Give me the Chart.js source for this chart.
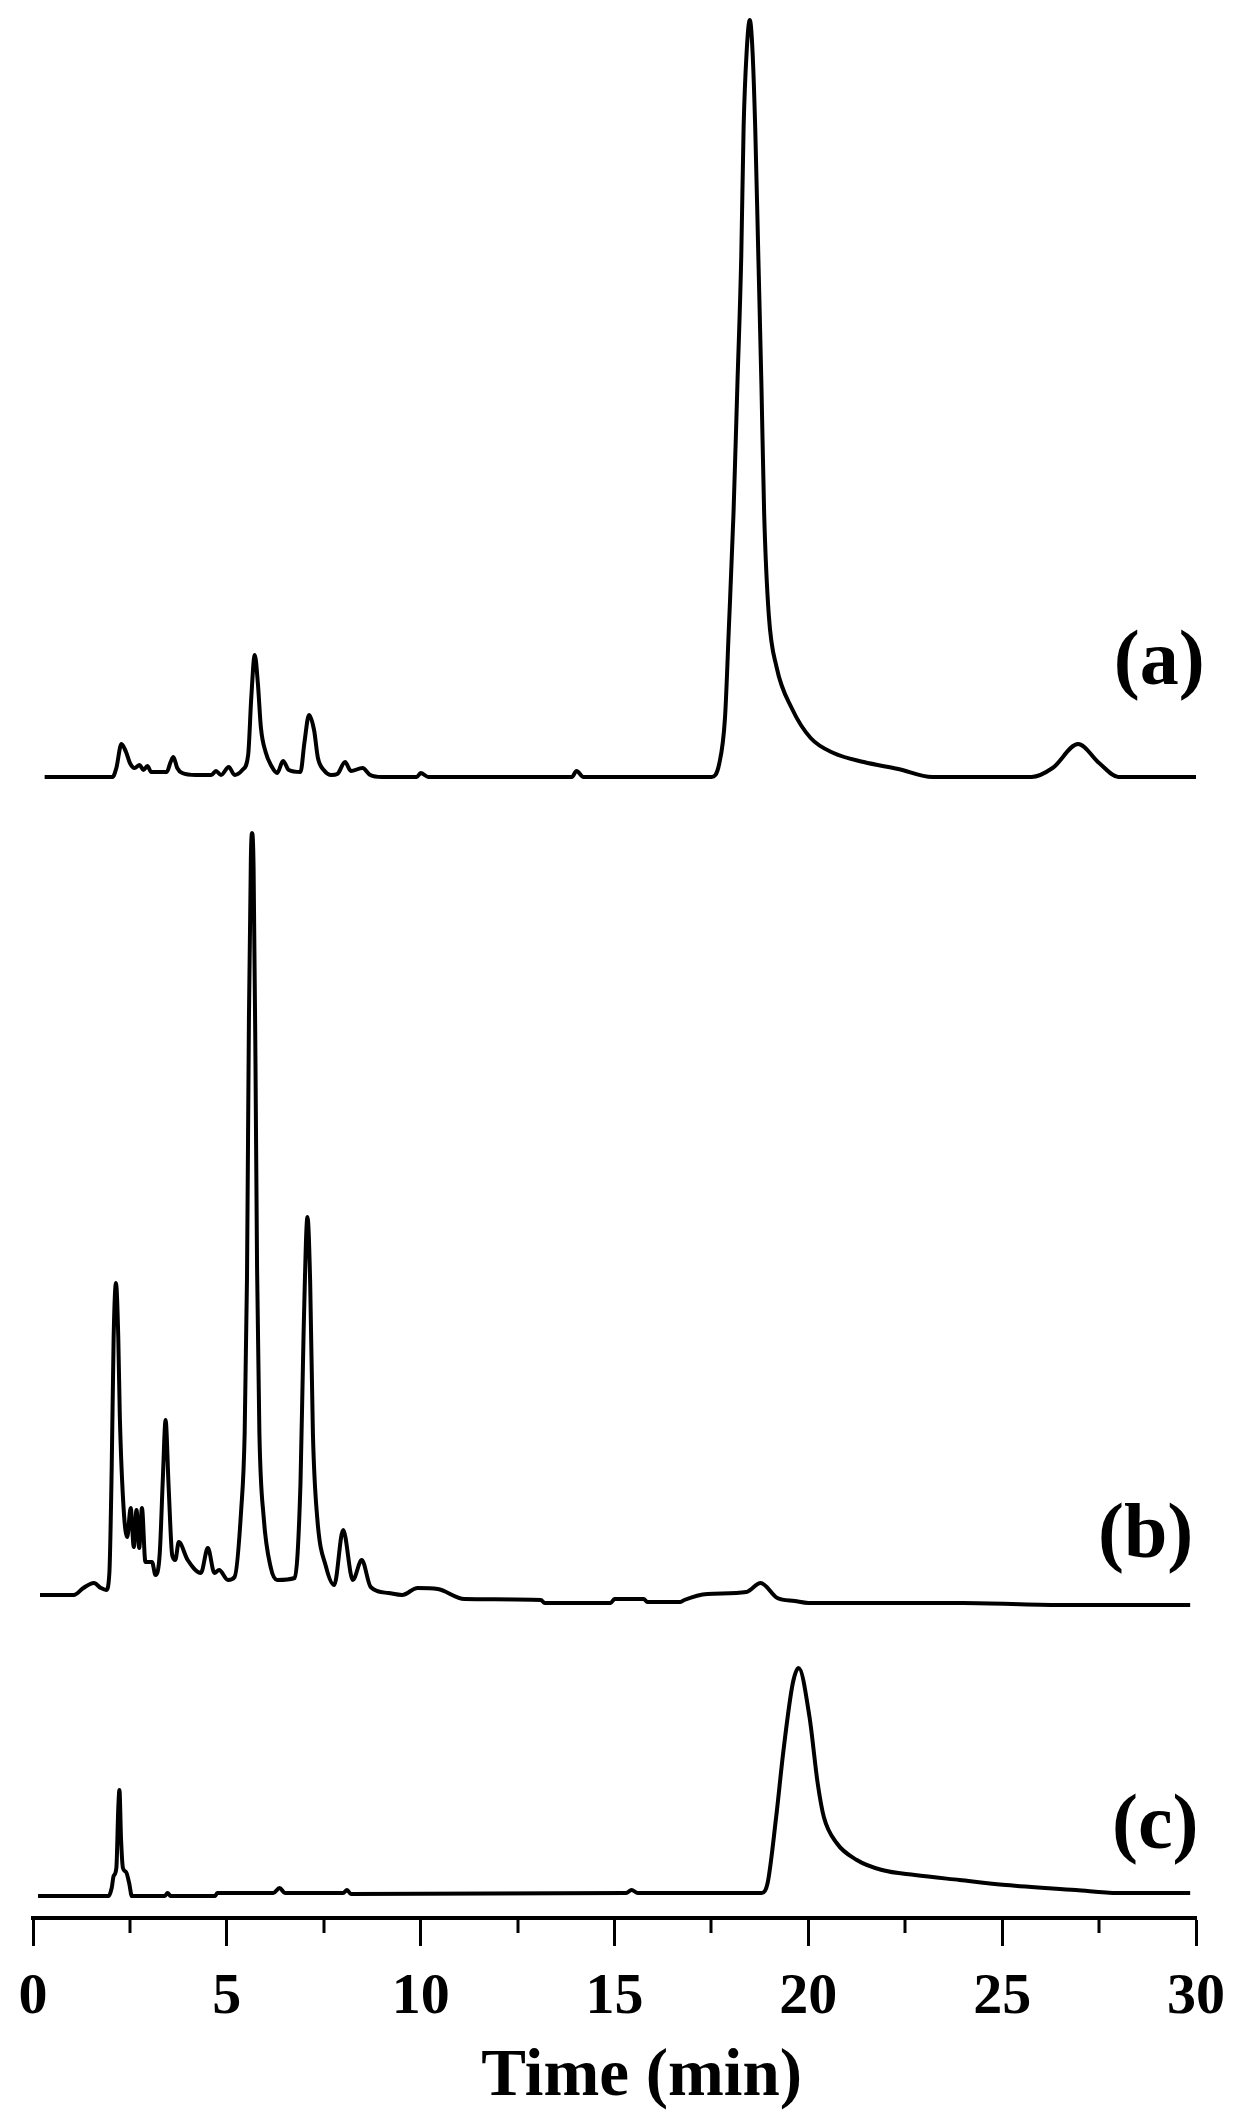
<!DOCTYPE html>
<html>
<head>
<meta charset="utf-8">
<script src="https://cdn.jsdelivr.net/npm/chart.js@4/dist/chart.umd.min.js"></script>
<style>
  html, body { margin: 0; padding: 0; background: #fff; }
  #wrap { width: 1244px; height: 2124px; position: relative; }
</style>
</head>
<body>
<div id="wrap"><canvas id="hplcChart"></canvas></div>
<script>
// retention time (min) and detector signal, traces stacked on one scale
const aTime = [0.3, 2.05, 2.15, 2.28, 2.4, 2.5, 2.62, 2.75, 2.85, 2.95, 3.05, 3.45, 3.55, 3.62, 3.72, 3.85, 4.2, 4.6, 4.72, 4.85, 5.05, 5.2, 5.4, 5.55, 5.63, 5.72, 5.8, 5.88, 6.0, 6.15, 6.3, 6.45, 6.6, 6.9, 7.0, 7.12, 7.25, 7.35, 7.5, 7.7, 7.85, 8.05, 8.2, 8.5, 8.7, 9.0, 9.9, 10.0, 10.2, 13.9, 14.02, 14.2, 17.5, 17.7, 17.85, 17.95, 18.07, 18.17, 18.27, 18.33, 18.41, 18.49, 18.56, 18.63, 18.71, 18.79, 18.86, 18.98, 19.18, 19.57, 20.06, 20.65, 21.43, 22.32, 23.2, 25.76, 26.3, 26.96, 27.5, 28.0, 30.0];
const aSignal = [1141, 1141, 1150, 1174, 1166, 1155, 1150, 1153, 1148, 1152, 1146, 1146, 1156, 1161, 1150, 1145, 1143, 1143, 1147, 1143, 1151, 1143, 1148, 1163, 1220, 1263, 1235, 1190, 1166, 1152, 1145, 1157, 1148, 1146, 1175, 1203, 1188, 1160, 1148, 1143, 1144, 1156, 1147, 1150, 1143, 1141, 1141, 1145, 1141, 1141, 1147, 1141, 1141, 1154, 1200, 1290, 1405, 1533, 1662, 1790, 1867, 1898, 1867, 1790, 1662, 1533, 1405, 1303, 1251, 1210, 1180, 1165, 1156, 1149, 1141, 1141, 1150, 1174, 1155, 1141, 1141];

const bTime = [0.18, 1.05, 1.3, 1.57, 1.75, 1.89, 1.97, 2.03, 2.08, 2.14, 2.2, 2.24, 2.34, 2.43, 2.52, 2.6, 2.67, 2.74, 2.81, 2.9, 3.07, 3.16, 3.27, 3.35, 3.42, 3.5, 3.59, 3.67, 3.76, 3.99, 4.33, 4.51, 4.68, 4.8, 5.03, 5.2, 5.37, 5.46, 5.52, 5.57, 5.62, 5.65, 5.69, 5.74, 5.78, 5.84, 5.95, 6.13, 6.3, 6.75, 6.9, 6.98, 7.08, 7.15, 7.22, 7.33, 7.56, 7.77, 8.0, 8.25, 8.48, 8.71, 9.17, 9.52, 9.92, 10.44, 11.13, 13.1, 13.2, 14.9, 15.0, 15.75, 15.85, 16.7, 16.8, 17.4, 18.4, 18.77, 19.2, 19.65, 20.0, 22.0, 24.0, 26.5, 28.0, 29.85];
const bSignal = [323, 323, 330, 335, 330, 328, 345, 450, 580, 635, 580, 501, 408, 381, 410, 371, 408, 370, 410, 356, 356, 343, 365, 440, 498, 430, 363, 358, 376, 358, 345, 370, 345, 348, 338, 341, 408, 485, 640, 900, 1060, 1085, 1050, 850, 650, 485, 401, 351, 338, 340, 435, 585, 701, 635, 485, 401, 351, 333, 388, 338, 358, 331, 325, 323, 330, 329, 319, 318, 315, 315, 319, 319, 316, 316, 318, 324, 326, 335, 320, 317, 315, 315, 315, 313, 313, 313];

const cTime = [0.13, 1.95, 2.03, 2.08, 2.15, 2.2, 2.23, 2.27, 2.32, 2.4, 2.48, 2.55, 3.4, 3.47, 3.55, 4.7, 4.75, 6.2, 6.36, 6.5, 8.0, 8.1, 8.2, 15.3, 15.44, 15.6, 18.8, 18.95, 19.17, 19.36, 19.6, 19.75, 20.03, 20.24, 20.4, 20.73, 21.25, 21.9, 22.75, 23.9, 25.1, 26.9, 27.98, 29.85];
const cSignal = [22, 22, 30, 42, 50, 110, 128, 80, 50, 46, 35, 22, 22, 25, 22, 22, 25, 25, 30, 25, 25, 28, 24, 25, 28, 25, 25, 35, 101, 168, 235, 250, 201, 135, 101, 75, 58, 48, 43, 38, 33, 28, 25, 25];

const traceNames = ['(a)', '(b)', '(c)'];
const majorTicks = [0, 5, 10, 15, 20, 25, 30];
const minorTicks = [2.5, 7.5, 12.5, 17.5, 22.5, 27.5];
const axisTitle = 'Time (min)';

const serif = '"Liberation Serif", "Times New Roman", serif';

function toPoints(xs, ys) {
  return xs.map((x, i) => ({ x: x, y: ys[i] }));
}

const traces = [[aTime, aSignal], [bTime, bSignal], [cTime, cSignal]];

// where the trace names sit (minutes, signal)
const labelSpots = [[29.05, 1254], [28.7, 381], [28.95, 90]];

const minorTickPlugin = {
  id: 'minorTicks',
  afterDraw(chart) {
    const ctx = chart.ctx;
    const xs = chart.scales.x;
    const yb = chart.chartArea.bottom;
    ctx.save();
    ctx.strokeStyle = '#000';
    ctx.lineWidth = 3;
    minorTicks.forEach(v => {
      const px = Math.round(xs.getPixelForValue(v));
      ctx.beginPath();
      ctx.moveTo(px, yb);
      ctx.lineTo(px, yb + 15);
      ctx.stroke();
    });
    // axis title, sits a little right of centre in the original
    ctx.fillStyle = '#000';
    ctx.font = 'bold 67px ' + serif;
    ctx.textAlign = 'center';
    ctx.textBaseline = 'middle';
    ctx.fillText(axisTitle, xs.getPixelForValue(15.7), yb + 160);
    ctx.restore();
  }
};

const traceLabelPlugin = {
  id: 'traceLabels',
  afterDatasetsDraw(chart) {
    const ctx = chart.ctx;
    ctx.save();
    ctx.fillStyle = '#000';
    ctx.font = 'bold 78px ' + serif;
    ctx.textAlign = 'center';
    ctx.textBaseline = 'middle';
    traceNames.forEach((name, i) => {
      const px = chart.scales.x.getPixelForValue(labelSpots[i][0]);
      const py = chart.scales.y.getPixelForValue(labelSpots[i][1]);
      ctx.fillText(name, px, py);
    });
    ctx.restore();
  }
};

new Chart(document.getElementById('hplcChart').getContext('2d'), {
  type: 'line',
  data: {
    datasets: traces.map((t, i) => ({
      label: traceNames[i],
      data: toPoints(t[0], t[1]),
      borderColor: '#000',
      borderWidth: 4,
      pointRadius: 0,
      fill: false,
      cubicInterpolationMode: 'monotone'
    }))
  },
  options: {
    responsive: true,
    maintainAspectRatio: false,
    animation: false,
    layout: { padding: { left: 33, right: 48, top: 0, bottom: 0 } },
    plugins: {
      legend: { display: false },
      tooltip: { enabled: false }
    },
    scales: {
      x: {
        type: 'linear',
        min: 0,
        max: 30,
        afterBuildTicks: s => { s.ticks = majorTicks.map(v => ({ value: v })); },
        afterFit: s => { s.height = 206; },
        ticks: {
          color: '#000',
          padding: 17,
          maxRotation: 0,
          autoSkip: false,
          font: { family: serif, size: 58, weight: 'bold' }
        },
        grid: {
          drawOnChartArea: false,
          drawTicks: true,
          tickLength: 28,
          tickWidth: 3,
          tickColor: '#000'
        },
        border: { display: true, color: '#000', width: 4 },
        title: { display: false }
      },
      y: {
        display: false,
        min: 0,
        max: 1918
      }
    }
  },
  plugins: [minorTickPlugin, traceLabelPlugin]
});
</script>
</body>
</html>
